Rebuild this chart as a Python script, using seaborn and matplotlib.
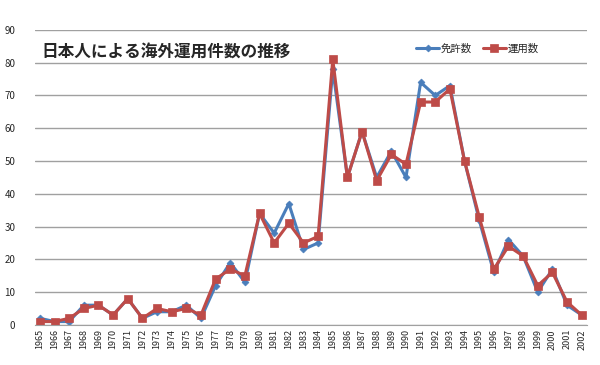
import matplotlib
matplotlib.use("Agg")
import matplotlib.pyplot as plt
import numpy as np
import pandas as pd
import seaborn as sns

years = list(range(1965, 2003))
menkyo = [2, 1, 1, 6, 6, 3, 8, 2, 4, 4, 6, 2, 12, 19, 13, 34, 28, 37, 23, 25,
          78, 45, 59, 45, 53, 45, 74, 70, 73, 50, 32, 16, 26, 21, 10, 17, 6, 3]
unyo = [1, 1, 2, 5, 6, 3, 8, 2, 5, 4, 5, 3, 14, 17, 15, 34, 25, 31, 25, 27,
        81, 45, 59, 44, 52, 49, 68, 68, 72, 50, 33, 17, 24, 21, 12, 16, 7, 3]
series_names = ["免許数", "運用数"]
title = "日本人による海外運用件数の推移"

df = pd.DataFrame({"year": years * 2,
                   "count": menkyo + unyo,
                   "series": [series_names[0]] * len(years) + [series_names[1]] * len(years)})

sns.set_style("white")
plt.rcParams['font.family'] = ['Noto Sans CJK JP', 'DejaVu Sans']

fig = plt.figure(figsize=(6, 3.65), dpi=100)
ax = fig.add_axes([0.058, 0.11, 0.92, 0.808])

palette = {series_names[0]: "#4A7EBB", series_names[1]: "#BE4B48"}
sns.lineplot(data=df, x="year", y="count", hue="series", style="series",
             markers={series_names[0]: "D", series_names[1]: "s"},
             dashes=False, palette=palette, linewidth=2.2, ax=ax)


def style_marks(lines):
    for line in lines:
        c = line.get_color()
        line.set_markeredgecolor(c)
        line.set_markerfacecolor(c)
        line.set_markeredgewidth(0.5)
        if line.get_marker() == "D":
            line.set_markersize(3.5)
        elif line.get_marker() == "s":
            line.set_markersize(6)


style_marks(ax.lines)

ax.set_xlim(1964.65, 2002.35)
ax.set_ylim(0, 90)
ax.set_yticks(range(0, 91, 10))
ax.set_xticks(years)
ax.set_xticklabels([str(y) for y in years], rotation=90, fontsize=6.5)
ax.tick_params(axis='y', labelsize=7, length=0, pad=14)
ax.tick_params(axis='x', length=0, pad=3)
ax.yaxis.grid(True, color="#a0a0a0", linewidth=1)
ax.set_axisbelow(True)
for s in ["left", "right", "top"]:
    ax.spines[s].set_visible(False)
ax.spines["bottom"].set_color("#a0a0a0")
ax.set_xlabel("")
ax.set_ylabel("")

ax.text(0.012, 0.955, title, transform=ax.transAxes, fontsize=12,
        fontweight="bold", va="top", ha="left")
leg = ax.legend(loc="upper right", bbox_to_anchor=(0.93, 0.985), ncol=2,
                frameon=False, fontsize=7.5, handlelength=2.2, columnspacing=1.0,
                handletextpad=0.2)
style_marks(leg.get_lines())

fig.savefig("out.png", dpi=100)
